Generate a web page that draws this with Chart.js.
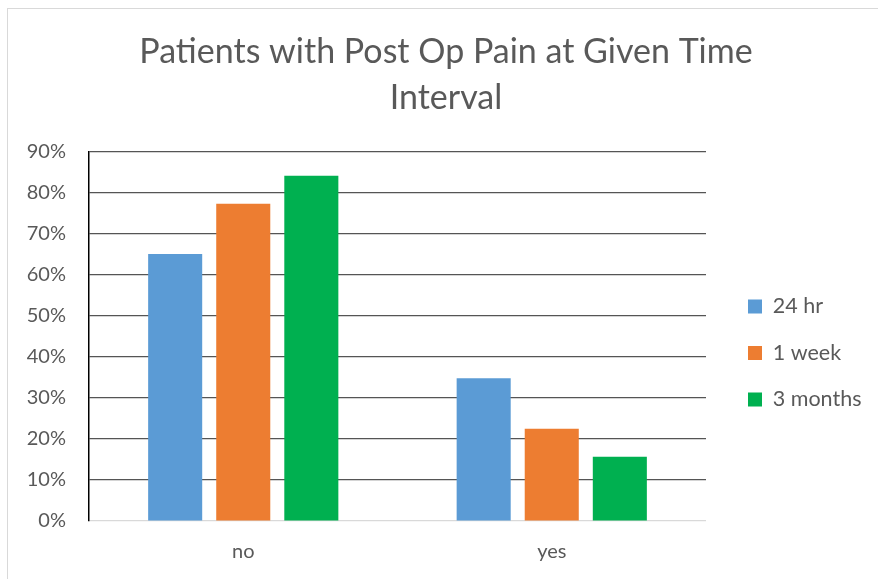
<!DOCTYPE html>
<html><head><meta charset="utf-8">
<script src="https://cdn.jsdelivr.net/npm/chart.js@4.4.1/dist/chart.umd.min.js"></script>
<style>
html,body{margin:0;padding:0;background:#fff;overflow:hidden;width:878px;height:579px;}
#frame{position:absolute;left:7px;top:8px;width:1000px;height:1000px;border:1px solid #d9d9d9;}
#wrap{position:absolute;left:0;top:0;width:878px;height:579px;}
</style></head><body>
<div id="frame"></div>
<div id="wrap"><canvas id="c" width="878" height="579"></canvas></div>
<script>
const categories = ['no', 'yes'];
const seriesNames = ['24 hr', '1 week', '3 months'];
const hr24 = [65.1, 34.8];
const week1 = [77.4, 22.5];
const months3 = [84.2, 15.7];
const yTicks = [0, 10, 20, 30, 40, 50, 60, 70, 80, 90];
const titleLines = ['Patients with Post Op Pain at Given Time', 'Interval'];
const colors = ['#5b9bd5', '#ed7d31', '#00b050'];

const FONT = 'Lato';
const TXT = '#595959';
const SMALL = 20;
const LEGF = 21.5;
const LEG_PAD = 25, BOX = 14;

// legend width, so that the plot ends where the reference's does
const mctx = document.createElement('canvas').getContext('2d');
mctx.font = 'normal ' + LEGF + 'px ' + FONT;
const maxText = Math.max(...seriesNames.map(s => mctx.measureText(s).width));
const legendW = LEG_PAD + BOX + LEGF / 2 + maxText + 10;
const padR = Math.max(0, (878 - 706) - legendW);

const shiftBoxes = {
  id: 'shiftBoxes',
  afterLayout(chart) {
    const l = chart.legend;
    if (l) {
      const dx = 748 - (l.left + LEG_PAD);
      const dy = 16.5;
      l.left += dx; l.right += dx; l.top += dy; l.bottom += dy;
    }
    const t = chart.titleBlock;
    if (t) {
      const cx = (t.left + t.right) / 2;
      const d = 446 - cx;
      t.left += d; t.right += d;
    }
  }
};

new Chart(document.getElementById('c'), {
  type: 'bar',
  data: {
    labels: categories,
    datasets: [
      { label: seriesNames[0], data: hr24, backgroundColor: colors[0] },
      { label: seriesNames[1], data: week1, backgroundColor: colors[1] },
      { label: seriesNames[2], data: months3, backgroundColor: colors[2] }
    ]
  },
  options: {
    responsive: false,
    animation: false,
    devicePixelRatio: 1,
    categoryPercentage: 0.662,
    barPercentage: 0.794,
    layout: { padding: { left: 0, right: padR, top: 0, bottom: 0 } },
    plugins: {
      tooltip: { enabled: false },
      title: {
        display: true,
        text: titleLines,
        color: TXT,
        font: { family: FONT, size: 34, weight: 'normal', lineHeight: 46 / 34 },
        padding: { top: 29, bottom: 31 }
      },
      legend: {
        display: true,
        position: 'right',
        fullSize: false,
        labels: {
          color: TXT,
          font: { family: FONT, size: LEGF },
          boxWidth: BOX,
          boxHeight: BOX,
          padding: LEG_PAD
        }
      }
    },
    scales: {
      x: {
        grid: { display: false, drawTicks: false },
        border: { display: false },
        ticks: { color: TXT, font: { family: FONT, size: SMALL }, padding: 19 },
        afterFit(s) { s.height = 58; }
      },
      y: {
        min: yTicks[0],
        max: yTicks[yTicks.length - 1],
        ticks: {
          stepSize: yTicks[1] - yTicks[0],
          color: TXT,
          font: { family: FONT, size: SMALL },
          padding: 23,
          callback: v => v + '%'
        },
        grid: {
          drawTicks: false,
          lineWidth: 1.25,
          color: c => (c.tick && c.tick.value === 0) ? '#d9d9d9' : '#555555'
        },
        border: { display: true, color: '#000000', width: 1.5 },
        afterFit(s) { s.width = 89; }
      }
    }
  },
  plugins: [shiftBoxes]
});
</script>
</body></html>
